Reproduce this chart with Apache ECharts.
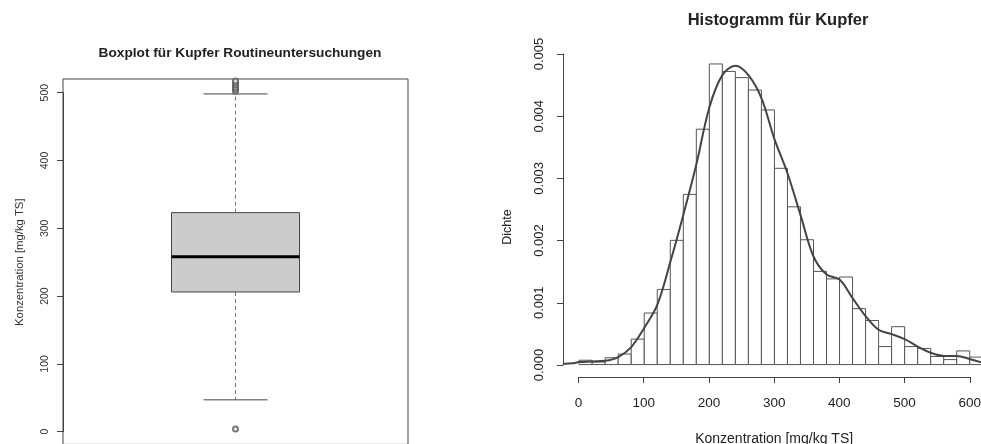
<!DOCTYPE html>
<html>
<head>
<meta charset="utf-8">
<script src="https://cdn.jsdelivr.net/npm/echarts@6/dist/echarts.min.js"></script>
<style>
html,body{margin:0;padding:0;background:#fff;}
#chart{width:981px;height:444px;}
</style>
</head>
<body>
<div id="chart"></div>
<script>
// ---- Boxplot data (Kupfer Routineuntersuchungen) ----
const boxStats = [47, 206, 258, 323, 498]; // lower whisker, Q1, median, Q3, upper whisker
const boxOutliers = [4, 502, 505, 508, 511, 514, 517];
const boxTicks = [0, 100, 200, 300, 400, 500];

// ---- Histogram data ----
const binWidth = 20;
const binStarts = [0, 20, 40, 60, 80, 100, 120, 140, 160, 180,
                   200, 220, 240, 260, 280, 300, 320, 340, 360, 380,
                   400, 420, 440, 460, 480, 500, 520, 540, 560, 580, 600];
const binDensity = [0.00007, 0.00004, 0.00011, 0.00017, 0.00041, 0.00083, 0.00121, 0.00200, 0.00274, 0.00379,
                    0.00484, 0.00472, 0.00462, 0.00442, 0.00410, 0.00316, 0.00254, 0.00201, 0.00150, 0.00138,
                    0.00141, 0.00090, 0.00071, 0.00029, 0.00061, 0.00029, 0.00026, 0.00013, 0.00008, 0.00022, 0.00012];
const densX = [-25, -10, 0, 20, 40, 60, 80, 100, 120, 140, 160, 180, 200, 220, 240, 260, 280, 300, 320, 340,
               360, 380, 400, 420, 440, 460, 480, 500, 520, 540, 560, 580, 600, 620, 640];
const densY = [0.00001, 0.00002, 0.00004, 0.00005, 0.00006, 0.00012, 0.00028, 0.00059, 0.00096, 0.00165,
               0.00241, 0.00322, 0.00414, 0.00466, 0.00481, 0.00466, 0.00429, 0.00363, 0.00308, 0.00241,
               0.00174, 0.00145, 0.00137, 0.00107, 0.00078, 0.00056, 0.00049, 0.00041, 0.00029, 0.00019,
               0.00014, 0.00014, 0.00009, 0.00003, 0.00001];
const histXTicks = [0, 100, 200, 300, 400, 500, 600];
const histYTicks = [0, 0.001, 0.002, 0.003, 0.004, 0.005];

const FONT = "'Liberation Sans', Arial, sans-serif";
const TXT = '#222';
const LINE = '#444';

const chart = echarts.init(document.getElementById('chart'), null, {renderer: 'canvas'});

const hidden = {show: false};
const g = (o) => Object.assign({outerBoundsMode: 'none', containLabel: false}, o);
const option = {
  backgroundColor: '#fff',
  animation: false,
  textStyle: {fontFamily: FONT},
  title: [
    {text: 'Boxplot für Kupfer Routineuntersuchungen', left: 235, top: 41, textAlign: 'center',
     textStyle: {fontFamily: FONT, fontSize: 13.7, fontWeight: 'bold', color: TXT}},
    {text: 'Histogramm für Kupfer', left: 773, top: 6.5, textAlign: 'center',
     textStyle: {fontFamily: FONT, fontSize: 16.5, fontWeight: 'bold', color: TXT}}
  ],
  graphic: [
    {type: 'text', x: 508, y: 227, rotation: Math.PI / 2,
     style: {text: 'Dichte', fontSize: 12.5, fontFamily: FONT, fill: TXT, align: 'center', verticalAlign: 'middle'}}
  ],
  grid: [
    // 0: boxplot frame / data
    g({left: 63, top: 79, width: 345, height: 365.4, show: true, borderColor: LINE, borderWidth: 1, backgroundColor: 'transparent'}),
    // 1: boxplot y-axis (0..500)
    g({left: 63, top: 92.7, width: 345, height: 339}),
    // 2: histogram data region
    g({left: 563, top: 41.6, width: 418, height: 335.4}),
    // 3: histogram x-axis (0..600)
    g({left: 578.5, top: 41.6, width: 391.3, height: 335.4}),
    // 4: histogram y-axis (0..0.005)
    g({left: 563, top: 54, width: 400, height: 311})
  ],
  xAxis: [
    {gridIndex: 0, type: 'value', min: 0, max: 2, show: false},
    {gridIndex: 1, type: 'value', min: 0, max: 2, show: false},
    {gridIndex: 2, type: 'value', min: -24.8, max: 617.3, show: false},
    {gridIndex: 3, type: 'value', min: histXTicks[0], max: histXTicks[histXTicks.length - 1], interval: 100,
     position: 'bottom',
     axisLine: {show: true, lineStyle: {color: LINE, width: 1}},
     axisTick: {show: true, length: 6, inside: false, lineStyle: {color: LINE}},
     axisLabel: {show: true, fontSize: 13.5, color: TXT, margin: 19, fontFamily: FONT},
     splitLine: hidden,
     name: 'Konzentration [mg/kg TS]', nameLocation: 'middle', nameGap: 55,
     nameTextStyle: {fontSize: 14, color: TXT, fontFamily: FONT}},
    {gridIndex: 4, type: 'value', min: 0, max: 1, show: false}
  ],
  yAxis: [
    {gridIndex: 0, type: 'value', min: -18.7, max: 520, show: false},
    {gridIndex: 1, type: 'value', min: boxTicks[0], max: boxTicks[boxTicks.length - 1], interval: 100,
     position: 'left',
     axisLine: {show: true, lineStyle: {color: LINE, width: 1}},
     axisTick: {show: true, length: 6, inside: false, lineStyle: {color: LINE}},
     axisLabel: {show: true, fontSize: 10.5, color: '#333', rotate: 90, margin: 12, fontFamily: FONT},
     splitLine: hidden,
     name: 'Konzentration [mg/kg TS]', nameLocation: 'middle', nameGap: 38,
     nameTextStyle: {fontSize: 11.3, color: '#333', fontFamily: FONT}},
    {gridIndex: 2, type: 'value', min: -0.0002, max: 0.0052, show: false},
    {gridIndex: 3, type: 'value', min: 0, max: 1, show: false},
    {gridIndex: 4, type: 'value', min: histYTicks[0], max: histYTicks[histYTicks.length - 1], interval: 0.001,
     position: 'left',
     axisLine: {show: true, lineStyle: {color: LINE, width: 1}},
     axisTick: {show: true, length: 6, inside: false, lineStyle: {color: LINE}},
     axisLabel: {show: true, fontSize: 13, color: TXT, rotate: 90, margin: 17, fontFamily: FONT,
                 formatter: v => v.toFixed(3)},
     splitLine: hidden}
  ],
  series: [
    // Boxplot body
    {
      type: 'custom', xAxisIndex: 0, yAxisIndex: 0, clip: false,
      data: [[1].concat(boxStats)],
      renderItem: function (params, api) {
        const x = api.value(0);
        const pLo = api.coord([x, api.value(1)]);
        const pQ1 = api.coord([x, api.value(2)]);
        const pMed = api.coord([x, api.value(3)]);
        const pQ3 = api.coord([x, api.value(4)]);
        const pHi = api.coord([x, api.value(5)]);
        const cx = pMed[0];
        const halfBox = 64, halfCap = 32;
        return {
          type: 'group',
          children: [
            {type: 'line', shape: {x1: cx, y1: pQ3[1], x2: cx, y2: pHi[1]},
             style: {stroke: '#777', lineWidth: 1, lineDash: [4, 3]}},
            {type: 'line', shape: {x1: cx, y1: pQ1[1], x2: cx, y2: pLo[1]},
             style: {stroke: '#777', lineWidth: 1, lineDash: [4, 3]}},
            {type: 'line', shape: {x1: cx - halfCap, y1: pHi[1], x2: cx + halfCap, y2: pHi[1]},
             style: {stroke: '#444', lineWidth: 1}},
            {type: 'line', shape: {x1: cx - halfCap, y1: pLo[1], x2: cx + halfCap, y2: pLo[1]},
             style: {stroke: '#444', lineWidth: 1}},
            {type: 'rect', shape: {x: cx - halfBox, y: pQ3[1], width: 2 * halfBox, height: pQ1[1] - pQ3[1]},
             style: {fill: '#cccccc', stroke: '#444', lineWidth: 1}},
            {type: 'line', shape: {x1: cx - halfBox, y1: pMed[1], x2: cx + halfBox, y2: pMed[1]},
             style: {stroke: '#000', lineWidth: 3}}
          ]
        };
      }
    },
    // Boxplot outliers
    {
      type: 'scatter', xAxisIndex: 0, yAxisIndex: 0, clip: false,
      data: boxOutliers.map(v => [1, v]),
      symbol: 'emptyCircle', symbolSize: 5,
      itemStyle: {color: '#555', borderColor: '#555', borderWidth: 1}
    },
    // Histogram bars
    {
      type: 'custom', xAxisIndex: 2, yAxisIndex: 2, clip: true,
      data: binStarts.map((s, i) => [s, s + binWidth, binDensity[i]]),
      renderItem: function (params, api) {
        const p0 = api.coord([api.value(0), 0]);
        const p1 = api.coord([api.value(1), api.value(2)]);
        return {
          type: 'rect',
          shape: {x: p0[0], y: p1[1], width: p1[0] - p0[0], height: p0[1] - p1[1]},
          style: {fill: '#fff', stroke: '#555', lineWidth: 1}
        };
      }
    },
    // Density curve
    {
      type: 'line', xAxisIndex: 2, yAxisIndex: 2,
      data: densX.map((x, i) => [x, densY[i]]),
      smooth: 0.35, showSymbol: false, symbol: 'none', clip: true,
      lineStyle: {color: '#444', width: 2}
    }
  ]
};
chart.setOption(option);
</script>
</body>
</html>
